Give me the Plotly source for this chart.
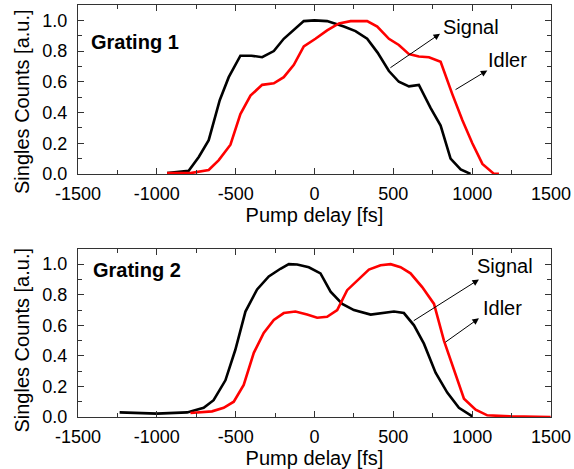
import plotly.graph_objects as go

# ---- data ----
g1_signal_x = [-935, -798, -734, -671, -601, -544, -470, -400, -332, -258, -195, -131, -68, 0, 80, 186, 260, 334, 400, 472, 535, 599, 662, 736, 800, 863, 927, 990]
g1_signal_y = [0.005, 0.02, 0.11, 0.22, 0.48, 0.63, 0.77, 0.77, 0.76, 0.80, 0.88, 0.94, 0.995, 1.0, 0.995, 0.96, 0.93, 0.88, 0.79, 0.67, 0.60, 0.57, 0.58, 0.43, 0.315, 0.10, 0.03, 0.0]

g1_idler_x = [-935, -787, -671, -607, -533, -470, -406, -332, -258, -195, -131, -68, 6, 80, 155, 229, 334, 398, 472, 535, 599, 662, 726, 800, 874, 938, 1001, 1065, 1139, 1170]
g1_idler_y = [0.005, 0.005, 0.026, 0.09, 0.19, 0.39, 0.51, 0.58, 0.59, 0.63, 0.71, 0.83, 0.88, 0.935, 0.98, 0.995, 0.995, 0.96, 0.88, 0.84, 0.78, 0.765, 0.76, 0.73, 0.52, 0.35, 0.2, 0.065, 0.0, 0.0]

g2_signal_x = [-1236, -1000, -808, -703, -640, -565, -502, -438, -364, -290, -216, -163, -110, -36, 38, 102, 176, 250, 356, 419, 504, 567, 631, 694, 768, 842, 916, 1001]
g2_signal_y = [0.03, 0.022, 0.03, 0.06, 0.11, 0.24, 0.44, 0.69, 0.835, 0.92, 0.97, 1.0, 0.998, 0.98, 0.94, 0.82, 0.74, 0.70, 0.67, 0.68, 0.69, 0.68, 0.60, 0.48, 0.29, 0.16, 0.06, 0.004]

g2_idler_x = [-787, -650, -576, -512, -449, -385, -322, -258, -195, -121, -47, 17, 80, 144, 207, 281, 345, 419, 483, 546, 609, 683, 758, 821, 884, 948, 1022, 1096, 1244, 1498]
g2_idler_y = [0.026, 0.037, 0.06, 0.10, 0.21, 0.42, 0.55, 0.635, 0.68, 0.69, 0.67, 0.65, 0.656, 0.70, 0.83, 0.90, 0.965, 0.993, 1.0, 0.98, 0.94, 0.85, 0.74, 0.50, 0.31, 0.12, 0.048, 0.011, 0.004, 0.0]

x_ticks = [-1500, -1000, -500, 0, 500, 1000, 1500]
y_ticks = [0.0, 0.2, 0.4, 0.6, 0.8, 1.0]
panel_labels = ["Grating 1", "Grating 2"]
x_title = "Pump delay [fs]"
y_title = "Singles Counts [a.u.]"

FONT = "Liberation Sans, Arial, sans-serif"

fig = go.Figure()
fig.add_trace(go.Scatter(x=g1_signal_x, y=g1_signal_y, mode="lines", line=dict(color="black", width=2.6), xaxis="x", yaxis="y", showlegend=False))
fig.add_trace(go.Scatter(x=g1_idler_x, y=g1_idler_y, mode="lines", line=dict(color="#ff0000", width=2.6), xaxis="x", yaxis="y", showlegend=False))
fig.add_trace(go.Scatter(x=g2_signal_x, y=g2_signal_y, mode="lines", line=dict(color="black", width=2.6), xaxis="x2", yaxis="y2", showlegend=False))
fig.add_trace(go.Scatter(x=g2_idler_x, y=g2_idler_y, mode="lines", line=dict(color="#ff0000", width=2.6), xaxis="x2", yaxis="y2", showlegend=False))

def xax(domain_anchor):
    return dict(
        range=[-1500, 1500], tickvals=x_ticks, ticktext=[str(v) for v in x_ticks],
        ticks="inside", ticklen=6, tickwidth=1, tickcolor="#333",
        minor=dict(dtick=250, tick0=0, ticks="inside", ticklen=4, tickcolor="#333"),
        showline=True, linecolor="#333", linewidth=1, mirror="ticks",
        showgrid=False, zeroline=False, anchor=domain_anchor, automargin=False,
        tickfont=dict(family=FONT, size=18, color="black"),
        title=dict(text=x_title, font=dict(family=FONT, size=20, color="black"), standoff=0),
        ticklabelstandoff=3,
    )

def yax(domain, anchor):
    return dict(
        domain=domain, range=[0, 1.1], tickvals=y_ticks, ticktext=["%.1f" % v for v in y_ticks],
        ticks="inside", ticklen=6, tickwidth=1, tickcolor="#333",
        minor=dict(dtick=0.1, tick0=0, ticks="inside", ticklen=4, tickcolor="#333"),
        showline=True, linecolor="#333", linewidth=1, mirror="ticks",
        showgrid=False, zeroline=False, anchor=anchor, automargin=False,
        tickfont=dict(family=FONT, size=18, color="black"),
        ticklabelstandoff=6,
    )

fig.update_layout(
    width=574, height=469,
    margin=dict(l=78, r=23, t=5, b=52, autoexpand=False),
    paper_bgcolor="white", plot_bgcolor="white",
    xaxis=xax("y"), yaxis=yax([0.59, 1.0], "x"),
    xaxis2=xax("y2"), yaxis2=yax([0.0, 0.408], "x2"),
)

ann = []
# y-axis titles (placed as rotated text, as in the reference they sit slightly low)
ann.append(dict(x=-0.118, y=0.765, xref="paper", yref="paper", text=y_title, textangle=-90, showarrow=False,
                xanchor="center", yanchor="middle", font=dict(family=FONT, size=20, color="black")))
ann.append(dict(x=-0.118, y=0.186, xref="paper", yref="paper", text=y_title, textangle=-90, showarrow=False,
                xanchor="center", yanchor="middle", font=dict(family=FONT, size=20, color="black")))
# panel labels
ann.append(dict(x=-1430, y=0.86, xref="x", yref="y", text="<b>%s</b>" % panel_labels[0], showarrow=False,
                xanchor="left", yanchor="middle", font=dict(family=FONT, size=20, color="black")))
ann.append(dict(x=-1420, y=0.96, xref="x2", yref="y2", text="<b>%s</b>" % panel_labels[1], showarrow=False,
                xanchor="left", yanchor="middle", font=dict(family=FONT, size=20, color="black")))
# text labels
ann.append(dict(x=995, y=0.96, xref="x", yref="y", text="Signal", showarrow=False, font=dict(family=FONT, size=20, color="black")))
ann.append(dict(x=1227, y=0.74, xref="x", yref="y", text="Idler", showarrow=False, font=dict(family=FONT, size=20, color="black")))
ann.append(dict(x=1208, y=0.985, xref="x2", yref="y2", text="Signal", showarrow=False, font=dict(family=FONT, size=20, color="black")))
ann.append(dict(x=1195, y=0.715, xref="x2", yref="y2", text="Idler", showarrow=False, font=dict(family=FONT, size=20, color="black")))
# arrows (tail on curve, head towards the text)
arrows = [
    ("x", "y", 472, 0.685, 796, 0.913),
    ("x", "y", 885, 0.543, 1096, 0.674),
    ("x2", "y2", 620, 0.624, 1043, 0.90),
    ("x2", "y2", 821, 0.483, 1043, 0.646),
]
for xr, yr, tx, ty, hx, hy in arrows:
    ann.append(dict(x=hx, y=hy, xref=xr, yref=yr, ax=tx, ay=ty, axref=xr, ayref=yr,
                    text="", showarrow=True, arrowhead=2, arrowsize=1.3, arrowwidth=1, arrowcolor="black", standoff=0))
fig.update_layout(annotations=ann)

fig.write_html("out.html", config={"displayModeBar": False},
               post_script="document.body.style.margin='0';document.body.style.padding='0';")
